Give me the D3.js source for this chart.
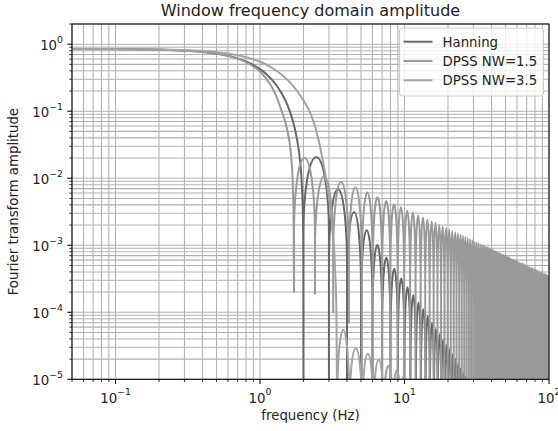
<!DOCTYPE html>
<html>
<head>
<meta charset="utf-8">
<script src="https://cdn.jsdelivr.net/npm/d3@7"></script>
<style>
body { margin: 0; background: #fff; }
svg { display: block; font-family: "DejaVu Sans", sans-serif; }
</style>
</head>
<body>
<svg width="558" height="431"></svg>
<script>
// ---- data ----
// main lobes (frequency in Hz, amplitude)
var hanningMainFreq = [0.05, 0.1, 0.2, 0.3, 0.4, 0.5, 0.6, 0.7, 0.8, 0.9, 1.0, 1.1, 1.2, 1.3, 1.4, 1.5, 1.6, 1.7, 1.8, 1.9, 1.95, 1.98, 1.995, 2.0];
var hanningMainAmp  = [0.85, 0.846, 0.828, 0.80, 0.766, 0.72, 0.67, 0.613, 0.552, 0.489, 0.425, 0.362, 0.30, 0.244, 0.19, 0.144, 0.103, 0.068, 0.039, 0.017, 0.0077, 0.0029, 0.0007, 0];

var dpss15MainFreq = [0.05, 0.1, 0.2, 0.3, 0.4, 0.5, 0.6, 0.7, 0.8, 0.9, 1.0, 1.1, 1.2, 1.3, 1.4, 1.5, 1.55, 1.6, 1.65, 1.69, 1.71, 1.72];
var dpss15MainAmp  = [0.85, 0.845, 0.83, 0.80, 0.77, 0.725, 0.67, 0.61, 0.54, 0.465, 0.39, 0.31, 0.235, 0.165, 0.106, 0.068, 0.05, 0.035, 0.019, 0.007, 0.002, 0.0002];

var dpss35MainFreq = [0.05, 0.2, 0.4, 0.6, 0.8, 1.0, 1.2, 1.4, 1.6, 1.8, 2.0, 2.2, 2.4, 2.6, 2.8, 3.0, 3.2, 3.3, 3.38, 3.42];
var dpss35MainAmp  = [0.85, 0.835, 0.79, 0.725, 0.64, 0.546, 0.449, 0.357, 0.274, 0.202, 0.145, 0.10, 0.06, 0.03, 0.013, 0.0052, 0.0014, 0.0005, 0.0001, 0];

// side lobes: null frequencies, null depth (0 = goes off the bottom), lobe peak between two nulls
var hanningNulls = [2, 3, 4, 5, 6, 7, 8, 9, 10, 11, 12, 13, 14, 15, 16, 17, 18, 19, 20, 21, 22, 23, 24, 25, 26, 27, 28, 29];
var hanningNullDepth = [];
var hanningPeaks = [0.0206, 0.0069, 0.0031, 0.00168, 0.00101, 0.00065, 0.00045, 0.00032, 0.000236, 0.000179,
  0.000139, 0.000111, 0.000089, 0.00007, 0.000057, 0.000047, 0.000039, 0.000033, 0.000028, 0.0000235,
  0.00002, 0.000017, 0.0000145, 0.0000125, 0.000011, 0.00001, 0.000009];

var dpss15Nulls = [1.72, 2.40, 3.21, 4.12, 5.07, 6.03, 7.0, 7.98, 8.97, 9.95, 10.94, 11.93, 12.93, 13.92, 14.92, 15.91, 16.91, 17.91, 18.9, 19.9,
  20.9, 21.9, 22.9, 23.9, 24.9, 25.9, 26.9, 27.9, 28.9, 29.9, 30.9, 31.9, 32.9, 33.9, 34.9, 35.9, 36.9, 37.9, 38.9, 39.9,
  40.9, 41.9, 42.9, 43.9, 44.9, 45.9, 46.9, 47.9, 48.9, 49.9, 50.9, 51.9, 52.9, 53.9, 54.9, 55.9, 56.9, 57.9, 58.9, 59.9,
  60.9, 61.9, 62.9, 63.9, 64.9, 65.9, 66.9, 67.9, 68.9, 69.9, 70.9, 71.9, 72.9, 73.9, 74.9, 75.9, 76.9, 77.9, 78.9, 79.9,
  80.9, 81.9, 82.9, 83.9, 84.9, 85.9, 86.9, 87.9, 88.9, 89.9, 90.9, 91.9, 92.9, 93.9, 94.9, 95.9, 96.9, 97.9, 98.9, 99.9];
var dpss15NullDepth = [0.0002, 0.00019, 0.0001, 0.00007];
var dpss15Peaks = [0.020, 0.0105, 0.0088, 0.0073, 0.0061, 0.0052, 0.0046, 0.0041, 0.0037, 0.0033,
  0.0031, 0.0028, 0.0026, 0.00243, 0.00228, 0.00214, 0.00202, 0.00191, 0.00181, 0.00172,
  0.00164, 0.00156, 0.0015, 0.00143, 0.00138, 0.00133, 0.00128, 0.00123, 0.00119, 0.00115,
  0.00111, 0.00108, 0.00105, 0.00102, 0.00099, 0.00096, 0.00094, 0.00091, 0.00089, 0.00087,
  0.00085, 0.00083, 0.00081, 0.00079, 0.00077, 0.00075, 0.00074, 0.00072, 0.00071, 0.00069,
  0.00068, 0.00067, 0.00066, 0.00064, 0.00063, 0.00062, 0.00061, 0.0006, 0.00059, 0.00058,
  0.00057, 0.00056, 0.00055, 0.00054, 0.00054, 0.00053, 0.00052, 0.00051, 0.0005, 0.0005,
  0.00049, 0.00048, 0.00048, 0.00047, 0.00046, 0.00046, 0.00045, 0.00045, 0.00044, 0.00044,
  0.00043, 0.00042, 0.00042, 0.00041, 0.00041, 0.0004, 0.0004, 0.0004, 0.00039, 0.00039,
  0.00038, 0.00038, 0.00037, 0.00037, 0.00037, 0.00036, 0.00036, 0.00036, 0.00035];

var dpss35Nulls = [3.42, 4.15, 5.1, 6.1, 7.2, 8.3, 9.4, 10.5, 11.5, 12.5];
var dpss35NullDepth = [];
var dpss35Peaks = [0.000055, 0.000029, 0.000024, 0.0000195, 0.000016, 0.0000135, 0.0000115, 0.00001, 0.000009];

var seriesNames = ["Hanning", "DPSS NW=1.5", "DPSS NW=3.5"];
var seriesColors = ["#666666", "#999999", "#a3a3a3"];

var xMajor = [0.1, 1, 10, 100];
var yMajor = [1e-5, 1e-4, 1e-3, 1e-2, 1e-1, 1];
var xMajorExp = ["\u22121", "0", "1", "2"];
var yMajorExp = ["\u22125", "\u22124", "\u22123", "\u22122", "\u22121", "0"];

// ---- layout ----
var plotLeft = 72, plotRight = 549, plotTop = 24, plotBottom = 379.3;

var svg = d3.select("svg");

var x = d3.scaleLog().domain([0.05, 100]).range([plotLeft, plotRight]);
var y = d3.scaleLog().domain([1e-5, 2]).range([plotBottom, plotTop]);

function yv(a) { return a > 0 ? y(a) : plotBottom + 40; }

svg.append("defs").append("clipPath").attr("id", "plot")
  .append("rect").attr("x", plotLeft).attr("y", plotTop)
  .attr("width", plotRight - plotLeft).attr("height", plotBottom - plotTop);

// grid (major + minor)
var grid = svg.append("g").attr("stroke", "#b0b0b0").attr("stroke-width", 1.05);
grid.selectAll(".gx").data(x.ticks()).enter().append("line")
  .attr("x1", function(d) { return x(d); }).attr("x2", function(d) { return x(d); })
  .attr("y1", plotTop).attr("y2", plotBottom);
grid.selectAll(".gy").data(y.ticks()).enter().append("line")
  .attr("y1", function(d) { return y(d); }).attr("y2", function(d) { return y(d); })
  .attr("x1", plotLeft).attr("x2", plotRight);

function seriesPath(mainFreq, mainAmp, nulls, depths, peaks) {
  var pts = mainFreq.map(function(f, i) { return [x(f), yv(mainAmp[i])]; });
  var d = d3.line().curve(d3.curveMonotoneX)(pts);
  for (var i = 0; i < peaks.length && i + 1 < nulls.length; i++) {
    var x0 = x(nulls[i]), x1 = x(nulls[i + 1]);
    var yp = y(peaks[i]);
    var y0 = yv(depths[i] || 0), y1 = yv(depths[i + 1] || 0);
    var rx = (x1 - x0) / 2;
    var ry = Math.max(1, Math.min(75, y0 - yp, y1 - yp));
    var base = yp + ry;
    d += "L" + x0 + "," + base + "A" + rx + "," + ry + " 0 0 1 " + x1 + "," + base + "L" + x1 + "," + y1;
  }
  return d;
}

var curves = [
  seriesPath(hanningMainFreq, hanningMainAmp, hanningNulls, hanningNullDepth, hanningPeaks),
  seriesPath(dpss15MainFreq, dpss15MainAmp, dpss15Nulls, dpss15NullDepth, dpss15Peaks),
  seriesPath(dpss35MainFreq, dpss35MainAmp, dpss35Nulls, dpss35NullDepth, dpss35Peaks)
];

svg.append("g").attr("clip-path", "url(#plot)")
  .selectAll("path").data(curves).enter().append("path")
  .attr("d", function(d) { return d; })
  .attr("fill", "none")
  .attr("stroke", function(d, i) { return seriesColors[i]; })
  .attr("stroke-width", 2)
  .attr("stroke-linejoin", "round");

// spines
svg.append("rect").attr("x", plotLeft).attr("y", plotTop)
  .attr("width", plotRight - plotLeft).attr("height", plotBottom - plotTop)
  .attr("fill", "none").attr("stroke", "#000").attr("stroke-width", 1.05);

// ticks
var ticks = svg.append("g").attr("stroke", "#000");
ticks.selectAll(".tx").data(x.ticks()).enter().append("line")
  .attr("x1", function(d) { return x(d); }).attr("x2", function(d) { return x(d); })
  .attr("y1", plotBottom).attr("y2", function(d) { return xMajor.indexOf(d) >= 0 ? plotBottom + 4.7 : plotBottom + 2.7; })
  .attr("stroke-width", function(d) { return xMajor.indexOf(d) >= 0 ? 1.05 : 0.8; });
ticks.selectAll(".ty").data(y.ticks()).enter().append("line")
  .attr("y1", function(d) { return y(d); }).attr("y2", function(d) { return y(d); })
  .attr("x1", plotLeft).attr("x2", function(d) { return yMajor.indexOf(d) >= 0 ? plotLeft - 4.7 : plotLeft - 2.7; })
  .attr("stroke-width", function(d) { return yMajor.indexOf(d) >= 0 ? 1.05 : 0.8; });

function powLabel(t, exp) {
  t.append("tspan").text("10");
  t.append("tspan").attr("dy", -7.4).attr("font-size", 9.3).text(exp);
}

xMajor.forEach(function(v, i) {
  var t = svg.append("text").attr("x", x(v)).attr("y", 402.5)
    .attr("text-anchor", "middle").attr("font-size", 13.3).attr("fill", "#222");
  powLabel(t, xMajorExp[i]);
});
yMajor.forEach(function(v, i) {
  var t = svg.append("text").attr("x", 63).attr("y", y(v) + 6)
    .attr("text-anchor", "end").attr("font-size", 13.3).attr("fill", "#222");
  powLabel(t, yMajorExp[i]);
});

// titles
svg.append("text").attr("x", (plotLeft + plotRight) / 2).attr("y", 16)
  .attr("text-anchor", "middle").attr("font-size", 16).attr("fill", "#222")
  .text("Window frequency domain amplitude");
svg.append("text").attr("x", (plotLeft + plotRight) / 2).attr("y", 420)
  .attr("text-anchor", "middle").attr("font-size", 13.3).attr("fill", "#222")
  .text("frequency (Hz)");
svg.append("text").attr("transform", "translate(18," + (plotTop + plotBottom) / 2 + ") rotate(-90)")
  .attr("text-anchor", "middle").attr("font-size", 13.3).attr("fill", "#222")
  .text("Fourier transform amplitude");

// legend
var legend = svg.append("g");
legend.append("rect").attr("x", 399.5).attr("y", 28).attr("width", 144).attr("height", 68)
  .attr("rx", 3).attr("fill", "#fff").attr("fill-opacity", 0.8)
  .attr("stroke", "#cccccc").attr("stroke-width", 1);
seriesNames.forEach(function(name, i) {
  var yy = 41.7 + i * 19.3;
  legend.append("line").attr("x1", 403.5).attr("x2", 432.5).attr("y1", yy).attr("y2", yy)
    .attr("stroke", seriesColors[i]).attr("stroke-width", 2);
  legend.append("text").attr("x", 442.5).attr("y", yy + 4.8)
    .attr("font-size", 13.3).attr("fill", "#222").text(name);
});
</script>
</body>
</html>
